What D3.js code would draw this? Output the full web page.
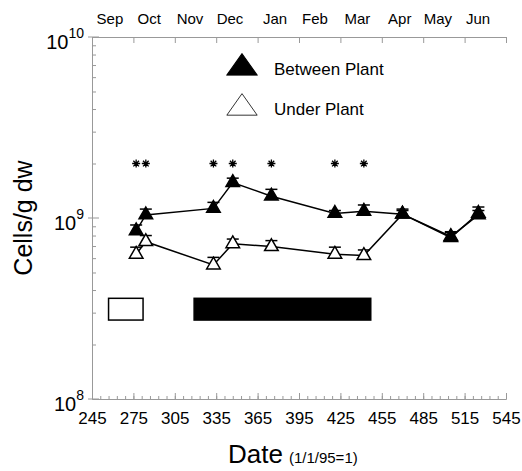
<!DOCTYPE html>
<html>
<head>
<meta charset="utf-8">
<script src="https://cdn.jsdelivr.net/npm/d3@7"></script>
<style>
  body { margin: 0; background: #fff; }
  text { font-family: "Liberation Sans", Arial, sans-serif; fill: #000; }
</style>
</head>
<body>
<script>
(function() {

    const width = 522;
    const height = 471;

    // sampling days (1/1/95 = 1)
    const days = [277, 284, 333, 347, 375, 421, 442, 470, 505, 525];
    // between plant cells/g dw and upper error
    const betweenValues = [8.5e8, 1.04e9, 1.13e9, 1.57e9, 1.32e9, 1.06e9, 1.09e9, 1.05e9, 7.8e8, 1.06e9];
    const betweenUpper  = [9.15e8, 1.12e9, 1.22e9, 1.66e9, 1.44e9, 1.10e9, 1.18e9, 1.12e9, 8.4e8, 1.15e9];
    // under plant cells/g dw and upper error
    const underValues = [6.3e8, 7.4e8, 5.5e8, 7.2e8, 6.95e8, 6.3e8, 6.2e8, 1.05e9, 7.9e8, 1.04e9];
    const underUpper  = [6.9e8, 8.0e8, 6.06e8, 7.65e8, 7.5e8, 6.9e8, 6.66e8, 1.1e9, 8.3e8, 1.1e9];
    // days with significant difference
    const starDays = [277, 284, 333, 347, 375, 421, 442];
    const starLevel = 2e9;

    // periods shown as bars (start day, end day, filled)
    const periods = [
        {start: 257, end: 282, filled: false},
        {start: 319, end: 447, filled: true}
    ];
    const periodLow = 2.73e8;
    const periodHigh = 3.6e8;

    const xTicks = d3.range(245, 546, 30);
    const xMinorTicks = d3.range(245, 546, 6);
    const monthLabels = ["Sep", "Oct", "Nov", "Dec", "Jan", "Feb", "Mar", "Apr", "May", "Jun"];
    const monthDays = [258, 286.5, 316, 345, 377.6, 406.6, 437.3, 468, 495.7, 524.7];
    const yMajor = [1e8, 1e9, 1e10];
    const yMajorExp = ["8", "9", "10"];
    const yMinor = [2, 3, 4, 5, 6, 7, 8, 9].map(m => m * 1e8)
        .concat([2, 3, 4, 5, 6, 7, 8, 9].map(m => m * 1e9));

    const legendItems = [
        {label: "Between Plant", filled: true},
        {label: "Under Plant", filled: false}
    ];

    const axisColor = "#999";

    let svg = d3.select("body").append("svg")
        .attr("width", width)
        .attr("height", height);

    let x = d3.scaleLinear().domain([245, 545]).range([92, 506]);
    let y = d3.scaleLog().domain([1e8, 1e10]).range([399, 37]);

    // bottom axis with labels
    let bottom = svg.append("g")
        .attr("transform", "translate(0," + y(1e8) + ")")
        .call(d3.axisBottom(x).tickValues(xTicks).tickSize(-6).tickPadding(13).tickSizeOuter(0));
    bottom.selectAll("text").style("font-size", "17px").attr("font-family", null);

    // minor ticks on bottom
    svg.append("g")
        .attr("transform", "translate(0," + y(1e8) + ")")
        .call(d3.axisBottom(x).tickValues(xMinorTicks).tickSize(-3).tickFormat("").tickSizeOuter(0));

    // top axis, ticks only
    svg.append("g")
        .attr("transform", "translate(0," + y(1e10) + ")")
        .call(d3.axisTop(x).tickValues(xTicks).tickSize(-6).tickFormat("").tickSizeOuter(0));

    // left axis, log minor ticks
    svg.append("g")
        .attr("transform", "translate(" + x(245) + ",0)")
        .call(d3.axisLeft(y).tickValues(yMinor).tickSize(-4).tickFormat("").tickSizeOuter(0));

    svg.selectAll(".domain, .tick line").attr("stroke", axisColor);

    // major y ticks crossing the axis
    svg.selectAll(".ymajor")
        .data(yMajor)
        .enter()
        .append("line")
        .attr("x1", x(245) - 4)
        .attr("x2", x(245) + 7)
        .attr("y1", d => y(d))
        .attr("y2", d => y(d))
        .attr("stroke", axisColor);

    // y labels as 10^n
    let yLab = svg.selectAll(".ylab")
        .data(yMajor)
        .enter()
        .append("text")
        .attr("text-anchor", "end")
        .attr("x", 84)
        .attr("y", d => y(d) + 12);
    yLab.append("tspan")
        .style("font-size", "20px")
        .text("10");
    yLab.append("tspan")
        .style("font-size", "14px")
        .attr("dy", -11)
        .text((d, i) => yMajorExp[i]);

    // month labels on top
    svg.selectAll(".month")
        .data(monthLabels)
        .enter()
        .append("text")
        .attr("x", (d, i) => x(monthDays[i]))
        .attr("y", 24)
        .attr("text-anchor", "middle")
        .style("font-size", "15px")
        .text(d => d);

    // axis titles
    let xTitle = svg.append("text")
        .attr("x", 228)
        .attr("y", 463);
    xTitle.append("tspan").style("font-size", "26px").text("Date");
    xTitle.append("tspan").style("font-size", "15px").attr("dx", 6).text("(1/1/95=1)");

    svg.append("text")
        .attr("transform", "translate(32,218)rotate(-90)")
        .attr("text-anchor", "middle")
        .style("font-size", "25px")
        .text("Cells/g dw");

    // period bars
    svg.selectAll(".period")
        .data(periods)
        .enter()
        .append("rect")
        .attr("x", d => x(d.start))
        .attr("width", d => x(d.end) - x(d.start))
        .attr("y", y(periodHigh))
        .attr("height", y(periodLow) - y(periodHigh))
        .attr("fill", d => d.filled ? "#000" : "#fff")
        .attr("stroke", "#000")
        .attr("stroke-width", 1.5);

    // asterisks
    let asterisk = {
        draw: function(context, size) {
            let r = Math.sqrt(size) / 2;
            for (let k = 0; k < 4; k++) {
                let a = k * Math.PI / 4;
                context.moveTo(-r * Math.cos(a), -r * Math.sin(a));
                context.lineTo(r * Math.cos(a), r * Math.sin(a));
            }
        }
    };
    svg.selectAll(".star")
        .data(starDays)
        .enter()
        .append("path")
        .attr("transform", d => "translate(" + x(d) + "," + y(starLevel) + ")")
        .attr("d", d3.symbol().type(asterisk).size(64))
        .attr("stroke", "#000")
        .attr("stroke-width", 1.3);

    let triangle = d3.symbol().type(d3.symbolTriangle).size(80);

    function drawSeries(values, upper, filled) {
        let pts = days.map((d, i) => ({day: d, v: values[i], up: upper[i]}));

        let line = d3.line()
            .x(d => x(d.day))
            .y(d => y(d.v));

        svg.append("path")
            .datum(pts)
            .attr("d", line)
            .attr("fill", "none")
            .attr("stroke", "#000")
            .attr("stroke-width", 1.5);

        // upper error bars
        let eb = svg.append("g");
        eb.selectAll(".bar")
            .data(pts)
            .enter()
            .append("line")
            .attr("x1", d => x(d.day))
            .attr("x2", d => x(d.day))
            .attr("y1", d => y(d.v))
            .attr("y2", d => y(d.up))
            .attr("stroke", "#000")
            .attr("stroke-width", 1.5);
        eb.selectAll(".cap")
            .data(pts)
            .enter()
            .append("line")
            .attr("x1", d => x(d.day) - 6)
            .attr("x2", d => x(d.day) + 6)
            .attr("y1", d => y(d.up))
            .attr("y2", d => y(d.up))
            .attr("stroke", "#000")
            .attr("stroke-width", 1.5);

        svg.append("g").selectAll("path")
            .data(pts)
            .enter()
            .append("path")
            .attr("transform", d => "translate(" + x(d.day) + "," + y(d.v) + ")")
            .attr("d", triangle)
            .attr("fill", filled ? "#000" : "#fff")
            .attr("stroke", "#000")
            .attr("stroke-width", 1.5);
    }

    drawSeries(underValues, underUpper, false);
    drawSeries(betweenValues, betweenUpper, true);

    // legend, flattened triangles
    let legend = svg.selectAll(".legend")
        .data(legendItems)
        .enter()
        .append("g")
        .attr("transform", (d, i) => "translate(242," + (68 + i * 40) + ")");

    legend.append("path")
        .attr("transform", "scale(1.1,0.9)")
        .attr("d", d3.symbol().type(d3.symbolTriangle).size(330))
        .attr("fill", d => d.filled ? "#000" : "#fff")
        .attr("stroke", "#000")
        .attr("stroke-width", d => d.filled ? 1 : 0.8);

    legend.append("text")
        .attr("x", 32)
        .attr("y", 7)
        .style("font-size", "17px")
        .text(d => d.label);

})();
</script>
</body>
</html>
